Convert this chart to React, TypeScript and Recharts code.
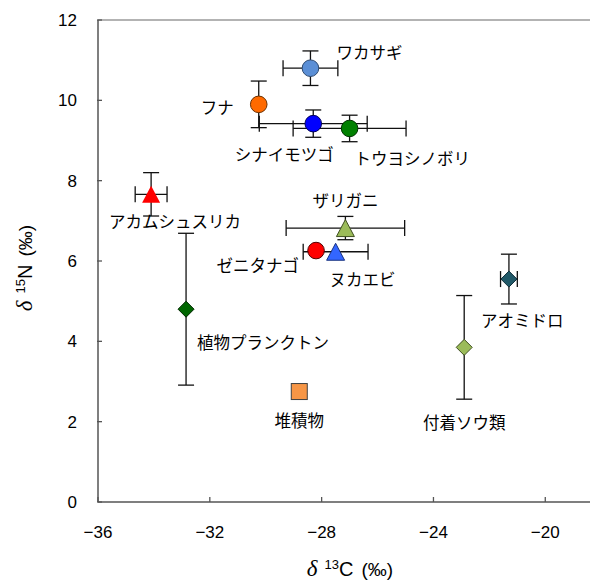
import React from 'react';
import { ScatterChart, Scatter, XAxis, YAxis, ErrorBar, ReferenceLine } from 'recharts';

// species / sample names
const names = [
  'ワカサギ',
  'フナ',
  'シナイモツゴ',
  'トウヨシノボリ',
  'アカムシュスリカ',
  'ザリガニ',
  'ゼニタナゴ',
  'ヌカエビ',
  '植物プランクトン',
  '堆積物',
  '付着ソウ類',
  'アオミドロ',
];
// δ13C (‰)
const d13C = [-28.4, -30.25, -28.3, -27.0, -34.1, -27.15, -28.2, -27.5, -32.85, -28.8, -22.9, -21.3];
// δ15N (‰)
const d15N = [10.8, 9.9, 9.42, 9.3, 7.66, 6.82, 6.26, 6.23, 4.8, 2.75, 3.85, 5.55];
// error (± SD)
const d13CErr = [0.98, 0, 1.93, 2.02, 0.57, 2.12, 0, 1.16, 0, 0, 0, 0.3];
const d15NErr = [0.43, 0.58, 0.34, 0.33, 0.54, 0.29, 0, 0, 1.89, 0, 1.29, 0.62];

const xTicks = [-36, -32, -28, -24, -20];
const yTicks = [0, 2, 4, 6, 8, 10, 12];

const data = names.map((name, i) => ({
  name,
  c: d13C[i],
  n: d15N[i],
  cErr: d13CErr[i],
  nErr: d15NErr[i],
}));

// marker look for each point
const markers: Record<string, { shape: string; fill: string; stroke: string }> = {
  'ワカサギ': { shape: 'circle', fill: '#5B8FD6', stroke: '#2E4A70' },
  'フナ': { shape: 'circle', fill: '#FF6A00', stroke: '#6B3000' },
  'シナイモツゴ': { shape: 'circle', fill: '#0000FF', stroke: '#00005A' },
  'トウヨシノボリ': { shape: 'circle', fill: '#008000', stroke: '#003300' },
  'アカムシュスリカ': { shape: 'triangle', fill: '#FF0000', stroke: 'none' },
  'ザリガニ': { shape: 'triangle', fill: '#9BBB59', stroke: '#3F4F20' },
  'ゼニタナゴ': { shape: 'circle', fill: '#FF0000', stroke: '#500000' },
  'ヌカエビ': { shape: 'triangle', fill: '#3366FF', stroke: '#1A3380' },
  '植物プランクトン': { shape: 'diamond', fill: '#006600', stroke: '#002800' },
  '堆積物': { shape: 'square', fill: '#F79646', stroke: '#404040' },
  '付着ソウ類': { shape: 'diamond', fill: '#9BBB59', stroke: '#3F4F20' },
  'アオミドロ': { shape: 'diamond', fill: '#215968', stroke: '#10303A' },
};

// label placement relative to the marker
const labelPos: Record<string, { dx: number; dy: number; anchor: string }> = {
  'ワカサギ': { dx: 26, dy: -15, anchor: 'start' },
  'フナ': { dx: -25, dy: 4, anchor: 'end' },
  'シナイモツゴ': { dx: -29, dy: 32, anchor: 'middle' },
  'トウヨシノボリ': { dx: 5, dy: 31, anchor: 'start' },
  'アカムシュスリカ': { dx: 24, dy: 28, anchor: 'middle' },
  'ザリガニ': { dx: 0, dy: -27, anchor: 'middle' },
  'ゼニタナゴ': { dx: -17, dy: 16, anchor: 'end' },
  'ヌカエビ': { dx: -6, dy: 28, anchor: 'start' },
  '植物プランクトン': { dx: 11, dy: 34, anchor: 'start' },
  '堆積物': { dx: 0, dy: 30, anchor: 'middle' },
  '付着ソウ類': { dx: 0, dy: 76, anchor: 'middle' },
  'アオミドロ': { dx: -28, dy: 42, anchor: 'start' },
};

const PLOT_LEFT = 98;
const PLOT_BOTTOM = 502;
const AXIS_COLOR = '#555';
const JP_FONT = '"Noto Sans CJK JP", sans-serif';
const NUM_FONT = '"Liberation Sans", Arial, sans-serif';

const fmt = (v: number) => (v < 0 ? '\u2212' + Math.abs(v) : String(v));

const Marker = (props: any) => {
  const { cx, cy, payload } = props;
  const m = markers[payload.name];
  const lp = labelPos[payload.name];
  let mark: React.ReactNode = null;
  if (m.shape === 'circle') {
    mark = <circle cx={cx} cy={cy} r={8.3} fill={m.fill} stroke={m.stroke} strokeWidth={1} />;
  } else if (m.shape === 'triangle') {
    const h = 17;
    const w = 18;
    mark = (
      <polygon
        points={`${cx},${cy - h / 2} ${cx + w / 2},${cy + h / 2} ${cx - w / 2},${cy + h / 2}`}
        fill={m.fill}
        stroke={m.stroke}
        strokeWidth={1}
      />
    );
  } else if (m.shape === 'diamond') {
    const s = 8;
    mark = (
      <polygon
        points={`${cx},${cy - s} ${cx + s},${cy} ${cx},${cy + s} ${cx - s},${cy}`}
        fill={m.fill}
        stroke={m.stroke}
        strokeWidth={1}
      />
    );
  } else {
    mark = <rect x={cx - 8} y={cy - 8} width={16} height={16} fill={m.fill} stroke={m.stroke} strokeWidth={1} />;
  }
  return (
    <g>
      {mark}
      <text
        x={cx + lp.dx}
        y={cy + lp.dy}
        dy="0.35em"
        textAnchor={lp.anchor as any}
        fontFamily={JP_FONT}
        fontSize={16.5}
        fill="#000"
      >
        {payload.name}
      </text>
    </g>
  );
};

const XTick = (props: any) => {
  const { x, payload } = props;
  return (
    <g>
      <line x1={x} x2={x} y1={PLOT_BOTTOM} y2={PLOT_BOTTOM - 5} stroke={AXIS_COLOR} strokeWidth={1.3} />
      <text x={x} y={532} dy="0.35em" textAnchor="middle" fontFamily={NUM_FONT} fontSize={17} fill="#000">
        {fmt(payload.value)}
      </text>
    </g>
  );
};

const YTick = (props: any) => {
  const { y, payload } = props;
  return (
    <g>
      <line x1={PLOT_LEFT - 1} x2={PLOT_LEFT + 4} y1={y} y2={y} stroke={AXIS_COLOR} strokeWidth={1.3} />
      <text x={77} y={y} dy="0.35em" textAnchor="end" fontFamily={NUM_FONT} fontSize={17} fill="#000">
        {fmt(payload.value)}
      </text>
    </g>
  );
};

const AxisTitle = ({ x, y, rotate, sup, sym }: { x: number; y: number; rotate?: boolean; sup: string; sym: string }) => (
  <text
    x={x}
    y={y}
    dy="0.35em"
    textAnchor="middle"
    fontFamily={NUM_FONT}
    fontSize={20}
    fill="#000"
    transform={rotate ? `rotate(-90, ${x}, ${y})` : undefined}
  >
    <tspan fontFamily='"Liberation Serif", serif' fontStyle="italic" fontSize={23}>δ</tspan>
    <tspan fontSize={13} dx={7} dy={-7}>{sup}</tspan>
    <tspan dy={7}>{sym}</tspan>
    <tspan fontSize={19} dx={8}>(‰)</tspan>
  </text>
);

export default function App() {
  return (
    <div style={{ width: 591, height: 581 }}>
      <style>{'body{margin:0}'}</style>
      <ScatterChart width={591} height={581} margin={{ top: 20, right: 1, left: 0, bottom: 0 }}>
        <XAxis
          type="number"
          dataKey="c"
          domain={[-36, -18.4]}
          ticks={xTicks}
          allowDataOverflow
          height={79}
          tickLine={false}
          axisLine={{ stroke: AXIS_COLOR, strokeWidth: 1.5 }}
          tick={<XTick />}
          label={{ content: () => <AxisTitle x={350} y={569} sup="13" sym="C" /> }}
        />
        <YAxis
          type="number"
          dataKey="n"
          domain={[0, 12]}
          ticks={yTicks}
          allowDataOverflow
          width={98}
          tickLine={false}
          axisLine={{ stroke: AXIS_COLOR, strokeWidth: 1.5 }}
          tick={<YTick />}
          label={{ content: () => <AxisTitle x={25} y={268} rotate sup="15" sym="N" /> }}
        />
        <ReferenceLine y={12} stroke="#9a9a9a" strokeWidth={1.5} />
        <Scatter data={data} isAnimationActive={false} shape={<Marker />}>
          <ErrorBar dataKey="cErr" direction="x" width={8} stroke="#111" strokeWidth={1.3} />
          <ErrorBar dataKey="nErr" direction="y" width={8} stroke="#111" strokeWidth={1.3} />
        </Scatter>
      </ScatterChart>
    </div>
  );
}
